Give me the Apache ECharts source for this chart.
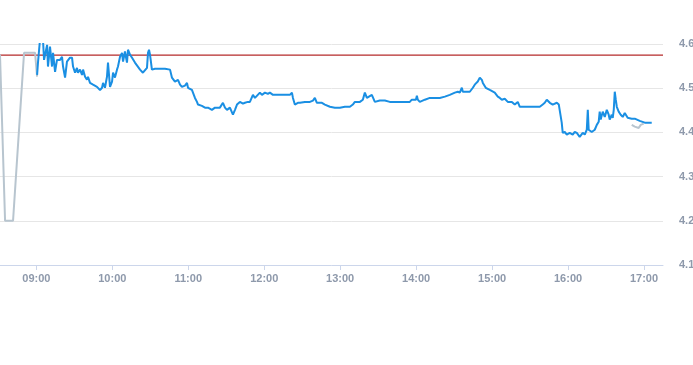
<!DOCTYPE html>
<html>
<head>
<meta charset="utf-8">
<script src="https://cdn.jsdelivr.net/npm/echarts@6/dist/echarts.min.js"></script>
<style>
  html, body { margin: 0; padding: 0; background: #fff; }
  #chart { width: 693px; height: 365px; }
</style>
</head>
<body>
<div id="chart"></div>
<script>
// times are minutes since midnight
const sessionTimes = [
  540.6, 541.3, 542.9, 543.7, 545.3, 546.1, 546.9, 548.5, 549.2, 550.8,
  552.4, 553.2, 554.8, 556.3, 558.7, 560.3, 561.1, 562.7, 564.2, 565.0,
  566.6, 568.2, 569.0, 570.6, 572.1, 572.9, 574.5, 576.1, 576.9, 578.5,
  580.0, 580.8, 582.4, 584.8, 587.9, 590.3, 591.9, 592.7, 594.2, 595.8,
  596.6, 598.2, 599.8, 600.6, 602.1, 603.7, 604.5, 606.1, 607.7, 608.5,
  610.0, 611.6, 612.4, 614.0, 615.6, 617.9, 621.9, 624.2, 627.4, 628.2,
  629.0, 629.8, 631.3, 633.7, 637.7, 641.6, 645.6, 647.1, 649.5, 651.9,
  653.5, 655.0, 657.4, 659.0, 659.8, 662.9, 665.3, 666.9, 667.7, 670.8,
  673.2, 675.6, 678.7, 681.1, 682.7, 685.0, 687.4, 689.0, 690.6, 692.9,
  695.3, 696.9, 698.5, 700.8, 703.2, 704.8, 707.1, 708.7, 711.1, 712.7,
  714.2, 716.6, 718.2, 720.6, 722.9, 724.5, 726.9, 728.5, 732.4, 736.3,
  740.3, 741.9, 742.7, 744.2, 746.6, 748.2, 752.1, 756.1, 758.5, 760.0,
  761.6, 764.0, 765.6, 767.9, 771.9, 775.8, 779.8, 783.7, 787.7, 790.0,
  791.6, 795.6, 797.9, 799.5, 801.1, 801.9, 805.0, 807.4, 811.3, 815.3,
  819.2, 823.2, 827.1, 831.1, 835.0, 836.6, 839.8, 840.6, 841.3, 842.9,
  846.9, 850.8, 858.7, 862.7, 866.6, 870.6, 872.9, 874.5, 876.1, 876.9,
  878.5, 882.4, 884.8, 886.3, 888.7, 890.3, 891.1, 891.9, 892.7, 895.0,
  898.2, 902.1, 904.5, 906.1, 907.7, 910.0, 912.4, 915.6, 917.9, 920.3,
  921.9, 925.8, 929.8, 933.7, 937.7, 940.0, 941.6, 943.2, 945.6, 947.9,
  951.1, 952.7, 953.5, 955.0, 955.8, 957.4, 959.0, 961.3, 963.7, 965.3,
  966.9, 969.2, 971.6, 973.2, 974.8, 975.6, 976.3, 978.7, 981.1, 982.7,
  984.2, 985.0, 985.8, 987.4, 989.0, 990.6, 992.1, 992.9, 994.5, 995.3,
  996.1, 996.9, 997.7, 998.5, 1000.0, 1001.6, 1003.2, 1004.8, 1007.1, 1010.3,
  1012.7, 1016.6, 1020.6, 1022.9, 1026.1
];
const sessionPrices = [
  4.530, 4.558, 4.610, 4.612, 4.607, 4.564, 4.560, 4.598, 4.549, 4.594,
  4.549, 4.580, 4.537, 4.564, 4.564, 4.571, 4.549, 4.524, 4.560, 4.558,
  4.569, 4.569, 4.549, 4.535, 4.546, 4.535, 4.542, 4.530, 4.542, 4.526,
  4.519, 4.526, 4.512, 4.508, 4.503, 4.496, 4.501, 4.512, 4.501, 4.526,
  4.558, 4.503, 4.515, 4.535, 4.524, 4.542, 4.549, 4.571, 4.580, 4.560,
  4.583, 4.558, 4.587, 4.576, 4.569, 4.558, 4.542, 4.535, 4.546, 4.580,
  4.587, 4.576, 4.542, 4.544, 4.544, 4.544, 4.542, 4.524, 4.515, 4.519,
  4.508, 4.503, 4.506, 4.512, 4.501, 4.496, 4.478, 4.469, 4.463, 4.460,
  4.456, 4.456, 4.451, 4.456, 4.456, 4.456, 4.467, 4.456, 4.451, 4.456,
  4.440, 4.451, 4.463, 4.469, 4.465, 4.467, 4.469, 4.469, 4.485, 4.478,
  4.478, 4.490, 4.485, 4.490, 4.487, 4.490, 4.485, 4.485, 4.485, 4.485,
  4.485, 4.490, 4.478, 4.463, 4.467, 4.467, 4.469, 4.469, 4.472, 4.478,
  4.467, 4.467, 4.467, 4.463, 4.458, 4.456, 4.456, 4.458, 4.458, 4.463,
  4.469, 4.469, 4.474, 4.490, 4.478, 4.474, 4.485, 4.469, 4.472, 4.472,
  4.469, 4.469, 4.469, 4.469, 4.469, 4.474, 4.474, 4.483, 4.474, 4.469,
  4.474, 4.478, 4.478, 4.481, 4.485, 4.490, 4.492, 4.490, 4.501, 4.492,
  4.492, 4.492, 4.501, 4.508, 4.515, 4.524, 4.528, 4.519, 4.512, 4.501,
  4.496, 4.490, 4.481, 4.478, 4.474, 4.476, 4.469, 4.469, 4.463, 4.469,
  4.458, 4.458, 4.458, 4.458, 4.458, 4.463, 4.467, 4.474, 4.467, 4.463,
  4.467, 4.463, 4.467, 4.422, 4.399, 4.401, 4.395, 4.399, 4.395, 4.401,
  4.399, 4.390, 4.399, 4.395, 4.406, 4.451, 4.406, 4.401, 4.406, 4.417,
  4.424, 4.447, 4.429, 4.447, 4.435, 4.451, 4.440, 4.429, 4.440, 4.433,
  4.451, 4.492, 4.474, 4.458, 4.447, 4.440, 4.435, 4.444, 4.433, 4.431,
  4.431, 4.426, 4.422, 4.422, 4.422
];

// pre-market and late trades (grey)
const extTimes = [511.3, 515.3, 521.6, 530.3, 539.0, 540.6, null, 1010.3, 1012.7, 1014.2, 1015.8, 1017.4, 1019.7];
const extPrices = [4.576, 4.200, 4.200, 4.580, 4.580, 4.526, null, 4.417, 4.413, 4.415, 4.410, 4.417, 4.420];

const prevClose = 4.575;
const axisStart = 511.3;
const axisEnd = 1035;
const hourTicks = [540, 600, 660, 720, 780, 840, 900, 960, 1020];
const priceTicks = [4.1, 4.2, 4.3, 4.4, 4.5, 4.6];

function hhmm(m) {
  const h = Math.floor(m / 60);
  const mm = Math.round(m - h * 60);
  return String(h).padStart(2, "0") + ":" + String(mm).padStart(2, "0");
}

const chart = echarts.init(document.getElementById("chart"));
const labelColor = "#8e99ab";

const option = {
  animation: false,
  grid: { left: 0, right: 30, top: 44, bottom: 100, containLabel: false, outerBoundsMode: "none" },
  xAxis: {
    type: "value",
    min: axisStart,
    max: axisEnd,
    axisLine: { lineStyle: { color: "#ccd6eb" } },
    axisTick: { show: true, customValues: hourTicks, length: 5, lineStyle: { color: "#ccd6eb" } },
    axisLabel: {
      customValues: hourTicks,
      formatter: v => hhmm(v),
      color: labelColor,
      fontSize: 11,
      fontWeight: "bold",
      fontFamily: "Liberation Sans, Arial, sans-serif",
      margin: 8
    },
    splitLine: { show: false }
  },
  yAxis: {
    type: "value",
    position: "right",
    min: priceTicks[0],
    max: priceTicks[priceTicks.length - 1],
    interval: 0.1,
    axisLine: { show: false },
    axisTick: { show: false },
    axisLabel: {
      formatter: v => v.toFixed(1),
      color: labelColor,
      fontSize: 11,
      fontWeight: "bold",
      fontFamily: "Liberation Sans, Arial, sans-serif",
      margin: 16
    },
    splitLine: { lineStyle: { color: "#e6e6e6" } }
  },
  series: [
    {
      name: "prevClose",
      type: "line",
      data: [[axisStart, prevClose], [axisEnd, prevClose]],
      showSymbol: false,
      silent: true,
      lineStyle: { color: "#b52a2a", width: 1.2 },
      itemStyle: { color: "#b52a2a" },
      z: 1
    },
    {
      name: "ext",
      type: "line",
      data: extTimes.map((t, i) => (t === null ? [null, null] : [t, extPrices[i]])),
      showSymbol: false,
      connectNulls: false,
      lineStyle: { color: "#b8c5cf", width: 2 },
      z: 2
    },
    {
      name: "price",
      type: "line",
      data: sessionTimes.map((t, i) => [t, sessionPrices[i]]),
      showSymbol: false,
      lineStyle: { color: "#1a8fe3", width: 2 },
      z: 3
    }
  ]
};
chart.setOption(option);
</script>
</body>
</html>
